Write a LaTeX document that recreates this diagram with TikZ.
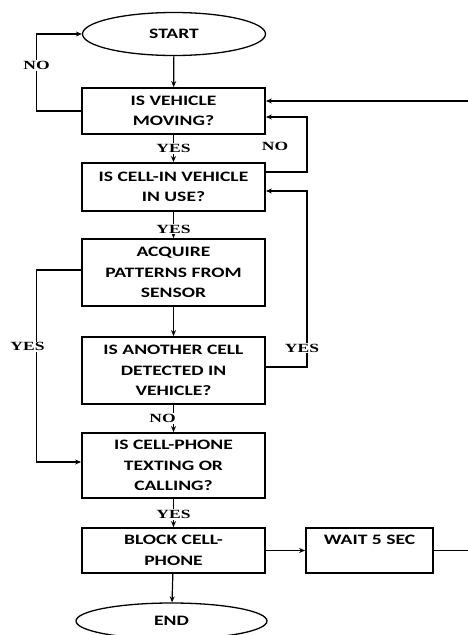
\documentclass[tikz,border=0pt]{standalone}
\usepackage{fontspec}
\usepackage{tikz}
\usetikzlibrary{arrows.meta,shapes.geometric}
\newfontfamily\boxfont[FakeStretch=1.36]{Carlito}
\newfontfamily\lblfont[FakeStretch=1.4]{Liberation Serif}

\begin{document}
\begin{tikzpicture}[x=1pt,y=-1pt,
    box/.style={rectangle,draw,line width=1.8pt,minimum width=183pt,align=center,
                font=\boxfont\bfseries\fontsize{14.4}{20.5}\selectfont},
    term/.style={ellipse,draw,line width=1.3pt,align=center,
                font=\boxfont\bfseries\fontsize{14.4}{20.5}\selectfont},
    lbl/.style={fill=white,inner sep=1pt,
                font=\lblfont\bfseries\fontsize{12.5}{14}\selectfont}]
\useasboundingbox (0,0) rectangle (468,635);
\begin{scope}[every node/.style={term}]
    \node[minimum width=183pt,minimum height=43pt] (start) at (174,34) {START};
    \node[minimum width=191pt,minimum height=36pt] (end) at (171.5,621) {END};
\end{scope}
\begin{scope}[every node/.style={box}]
    \node[minimum height=46pt] (mov) at (173.5,111) {IS VEHICLE\\MOVING?};
    \node[minimum height=48pt] (use) at (173.5,187) {IS CELL-IN VEHICLE\\IN USE?};
    \node[minimum height=67pt] (acq) at (173.5,272.5) {ACQUIRE\\PATTERNS FROM\\SENSOR};
    \node[minimum height=67pt] (oth) at (173.5,370.5) {IS ANOTHER CELL\\DETECTED IN\\VEHICLE?};
    \node[minimum height=65pt] (txt) at (173.5,465.5) {IS CELL-PHONE\\TEXTING OR\\CALLING?};
    \node[minimum height=45pt] (blk) at (173.5,550.5) {BLOCK CELL-\\PHONE};
    \node[minimum height=45pt,minimum width=127pt] (wait) at (369.5,550.5) {WAIT 5 SEC\\\mbox{}};
\end{scope}
\coordinate (lf) at (36.5,0);
\coordinate (rb) at (307,0);
\coordinate (rt) at (478,0);
\begin{scope}[>={Stealth[length=6pt,width=5pt]},line width=1.2pt,
              every edge/.style={draw,line width=1.2pt}]
    \path [->] (start) edge (mov);
    \path [->] (mov) edge node[lbl] {YES} (use);
    \path [->] (use) edge node[lbl,pos=0.65] {YES} (acq);
    \path [->] (acq) edge (oth);
    \path [->] (oth) edge node[lbl,xshift=-11pt] {NO} (txt);
    \path [->] (txt) edge node[lbl,pos=0.55] {YES} (blk);
    \path [->] (blk) edge (end);
    \path [->] (blk) edge (wait);
    \draw [->] (mov.west) -- (mov.west -| lf) |- node[lbl,pos=0.295] {NO} (start.west);
    \draw [->] ([yshift=15pt]use.east) -- ([yshift=15pt]use.east -| rb)
        |- node[lbl,pos=0.23,xshift=-32pt] {NO} ([yshift=-6pt]mov.east);
    \draw [->] ([yshift=3.5pt]oth.east) -- ([yshift=3.5pt]oth.east -| rb)
        |- node[lbl,pos=0.054,xshift=-5pt] {YES} ([yshift=-4pt]use.east);
    \draw [->] ([yshift=2.5pt]acq.west) -- ([yshift=2.5pt]acq.west -| lf)
        |- node[lbl,pos=0.2,xshift=-9pt] {YES} ([yshift=3.5pt]txt.west);
    \draw [->] (wait.east) -- (wait.east -| rt) |- ([yshift=10pt]mov.east);
\end{scope}
\end{tikzpicture}
\end{document}
